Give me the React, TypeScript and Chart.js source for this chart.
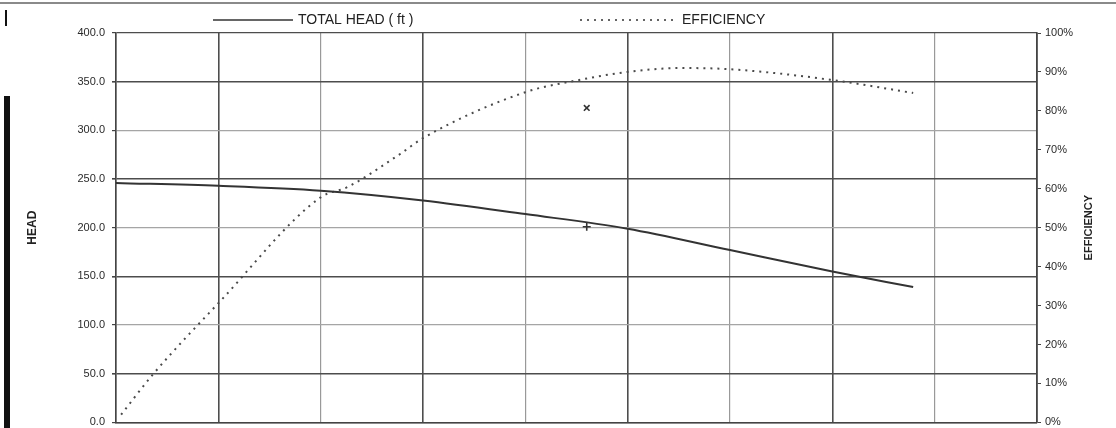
import React, { useEffect, useRef } from "react";
import { Chart, registerables } from "chart.js";

Chart.register(...registerables);

// Flow positions in grid-division units (x axis has no printed labels)
const headFlow = [0, 1, 2, 3, 4, 5, 6, 7, 7.79];
const totalHead = [246, 243, 238, 228, 214, 199, 177, 155, 139];

const effFlow = [0.05, 0.36, 1, 2, 2.26, 2.78, 3, 4, 4.54, 5, 5.51, 6, 6.98, 7.79];
const efficiency = [2, 12.3, 30.6, 57.8, 60.4, 69, 73, 84.8, 88, 90, 91, 90.7, 88, 84.6];

const markerFlow = [4.6];
const markerHeadX = [323];
const markerHeadPlus = [201];

const headTicks = [0, 50, 100, 150, 200, 250, 300, 350, 400];
const effTicks = [0, 10, 20, 30, 40, 50, 60, 70, 80, 90, 100];

const legendLabels = ["TOTAL HEAD ( ft )", "EFFICIENCY"];
const axisTitles = ["HEAD", "EFFICIENCY"];

const FONT = "'Liberation Sans', Arial, sans-serif";
const DARK = "#444";

const decorPlugin = {
  id: "decor",
  beforeDraw(chart: any) {
    const ctx = chart.ctx;
    ctx.save();
    ctx.fillStyle = "#ffffff";
    ctx.fillRect(0, 0, chart.width, chart.height);
    // scan border remnants
    ctx.fillStyle = "#8a8a8a";
    ctx.fillRect(0, 2, chart.width, 2);
    ctx.fillStyle = "#111";
    ctx.fillRect(4, 96, 6, chart.height - 96);
    ctx.fillRect(5, 10, 2, 16);
    ctx.restore();
  },
  afterDraw(chart: any) {
    const ctx = chart.ctx;
    const area = chart.chartArea;
    ctx.save();
    // legend
    const ly = 20;
    ctx.strokeStyle = "#333";
    ctx.lineWidth = 1.6;
    ctx.setLineDash([]);
    ctx.beginPath();
    ctx.moveTo(213, ly);
    ctx.lineTo(293, ly);
    ctx.stroke();
    ctx.setLineDash([2, 5]);
    ctx.beginPath();
    ctx.moveTo(580, ly);
    ctx.lineTo(674, ly);
    ctx.stroke();
    ctx.setLineDash([]);
    ctx.fillStyle = "#222";
    ctx.font = `14px ${FONT}`;
    ctx.textBaseline = "middle";
    ctx.textAlign = "left";
    ctx.fillText(legendLabels[0], 298, ly);
    ctx.fillText(legendLabels[1], 682, ly);
    // axis titles (both read bottom-to-top)
    const cy = (area.top + area.bottom) / 2;
    ctx.textAlign = "center";
    ctx.font = `bold 12px ${FONT}`;
    ctx.save();
    ctx.translate(33, cy);
    ctx.rotate(-Math.PI / 2);
    ctx.fillText(axisTitles[0], 0, 0);
    ctx.restore();
    ctx.font = `bold 11px ${FONT}`;
    ctx.save();
    ctx.translate(1089, cy);
    ctx.rotate(-Math.PI / 2);
    ctx.fillText(axisTitles[1], 0, 0);
    ctx.restore();
    ctx.restore();
  },
};

export default function App() {
  const ref = useRef<HTMLCanvasElement | null>(null);

  useEffect(() => {
    if (!ref.current) return;
    const chart = new Chart(ref.current, {
      type: "line",
      data: {
        datasets: [
          {
            label: legendLabels[0],
            data: headFlow.map((x, i) => ({ x, y: totalHead[i] })),
            yAxisID: "y",
            borderColor: "#333",
            borderWidth: 2,
            pointRadius: 0,
            cubicInterpolationMode: "monotone",
          },
          {
            label: legendLabels[1],
            data: effFlow.map((x, i) => ({ x, y: efficiency[i] })),
            yAxisID: "y1",
            borderColor: "#4a4a4a",
            borderWidth: 2,
            borderDash: [2, 5],
            pointRadius: 0,
            cubicInterpolationMode: "monotone",
          },
          {
            label: "x",
            data: markerFlow.map((x, i) => ({ x, y: markerHeadX[i] })),
            yAxisID: "y",
            showLine: false,
            pointStyle: "crossRot",
            pointRadius: 4,
            borderColor: "#333",
            borderWidth: 1.6,
          },
          {
            label: "+",
            data: markerFlow.map((x, i) => ({ x, y: markerHeadPlus[i] })),
            yAxisID: "y",
            showLine: false,
            pointStyle: "cross",
            pointRadius: 4,
            borderColor: "#333",
            borderWidth: 1.6,
          },
        ],
      },
      options: {
        responsive: false,
        animation: false,
        layout: { padding: { top: 33, left: 0, right: 0, bottom: 0 } },
        plugins: { legend: { display: false }, tooltip: { enabled: false } },
        scales: {
          x: {
            type: "linear",
            min: 0,
            max: 9,
            ticks: { display: false, stepSize: 1 },
            grid: {
              drawTicks: false,
              color: (c: any) =>
                c.tick && (c.tick.value % 2 === 1 || c.tick.value === 0 || c.tick.value === 9)
                  ? "#4d4d4d"
                  : "#999",
              lineWidth: (c: any) => (c.tick && c.tick.value % 2 === 1 ? 1.6 : 1.2),
            },
            border: { display: true, color: DARK, width: 1.6 },
            afterFit: (s: any) => {
              s.height = 6;
            },
          },
          y: {
            type: "linear",
            position: "left",
            min: 0,
            max: 400,
            afterBuildTicks: (s: any) => {
              s.ticks = headTicks.map((v) => ({ value: v }));
            },
            ticks: {
              padding: 7,
              color: "#2a2a2a",
              font: { family: FONT, size: 11 },
              callback: (v: any) => Number(v).toFixed(1),
            },
            grid: {
              tickLength: 4,
              tickColor: DARK,
              color: (c: any) =>
                c.tick && (c.tick.value % 100 === 50 || c.tick.value === 0 || c.tick.value === 400)
                  ? "#4d4d4d"
                  : "#a5a5a5",
              lineWidth: (c: any) => (c.tick && c.tick.value % 100 === 50 ? 1.6 : 1.2),
            },
            border: { display: true, color: DARK, width: 1.6 },
            afterFit: (s: any) => {
              s.width = 116;
            },
          },
          y1: {
            type: "linear",
            position: "right",
            min: 0,
            max: 100,
            afterBuildTicks: (s: any) => {
              s.ticks = effTicks.map((v) => ({ value: v }));
            },
            ticks: {
              padding: 4,
              color: "#2a2a2a",
              font: { family: FONT, size: 11 },
              callback: (v: any) => `${v}%`,
            },
            grid: { drawOnChartArea: false, tickLength: 4, tickColor: DARK },
            border: { display: true, color: DARK, width: 1.6 },
            afterFit: (s: any) => {
              s.width = 79;
            },
          },
        },
      },
      plugins: [decorPlugin],
    } as any);
    return () => chart.destroy();
  }, []);

  return (
    <div
      style={{
        position: "absolute",
        left: 0,
        top: 0,
        width: 1116,
        height: 428,
        overflow: "hidden",
      }}
    >
      <canvas ref={ref} width={1116} height={436} />
    </div>
  );
}
